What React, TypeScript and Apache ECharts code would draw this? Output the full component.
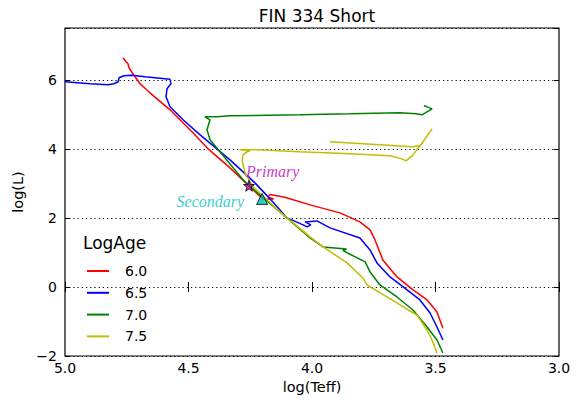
import React, { useEffect, useRef } from "react";
import * as echarts from "echarts";

// Isochrones: [log(Teff), log(L)] pairs, in the order the track runs
const AGE_LABELS = ["6.0", "6.5", "7.0", "7.5"];
const AGE_COLORS = ["#ff0000", "#0000ff", "#008000", "#bfbf00"];

const ISO_6_0: [number, number][] = [
  [3.47, -1.19], [3.494, -0.725], [3.534, -0.377], [3.591, -0.087], [3.656, 0.29],
  [3.713, 0.783], [3.745, 1.362], [3.765, 1.652], [3.806, 1.884], [3.887, 2.145],
  [4.008, 2.377], [4.11, 2.6], [4.17, 2.68], [4.178, 2.6], [4.155, 2.55],
  [4.198, 2.54], [4.255, 2.928], [4.332, 3.449], [4.425, 4.029], [4.482, 4.464],
  [4.575, 5.13], [4.656, 5.623], [4.696, 5.884], [4.725, 6.174], [4.741, 6.348],
  [4.745, 6.464], [4.753, 6.522], [4.765, 6.638],
];

const ISO_6_5: [number, number][] = [
  [3.47, -1.536], [3.494, -1.159], [3.522, -0.754], [3.563, -0.377], [3.615, -0.087],
  [3.684, 0.29], [3.737, 0.696], [3.765, 1.072], [3.806, 1.42], [3.927, 1.71],
  [3.98, 1.913], [4.028, 1.884], [4.005, 1.8], [4.02, 1.74], [4.036, 1.797],
  [4.101, 2.0], [4.17, 2.551], [4.231, 3.014], [4.332, 3.681], [4.453, 4.406],
  [4.522, 4.841], [4.575, 5.217], [4.591, 5.507], [4.587, 5.739], [4.571, 5.884],
  [4.575, 6.014], [4.676, 6.087], [4.729, 6.13], [4.761, 6.116], [4.781, 6.058],
  [4.785, 5.942], [4.802, 5.884], [4.826, 5.855], [4.899, 5.884], [5.0, 5.942],
];

const ISO_7_0: [number, number][] = [
  [3.47, -1.913], [3.494, -1.536], [3.534, -1.159], [3.591, -0.667], [3.656, -0.29],
  [3.725, 0.058], [3.765, 0.435], [3.785, 0.725], [3.858, 0.99], [3.875, 1.06],
  [3.86, 1.1], [3.955, 1.159], [4.008, 1.42], [4.13, 2.174], [4.211, 2.667],
  [4.275, 3.072], [4.356, 3.768], [4.413, 4.261], [4.425, 4.551], [4.413, 4.841],
  [4.433, 4.928], [4.385, 4.928], [4.332, 4.957], [4.049, 4.986], [3.846, 5.014],
  [3.644, 5.043], [3.579, 5.014], [3.555, 4.986], [3.514, 5.159], [3.534, 5.217],
  [3.547, 5.246],
];

const ISO_7_5: [number, number][] = [
  [3.494, -1.913], [3.514, -1.536], [3.534, -1.246], [3.575, -0.812], [3.611, -0.667],
  [3.656, -0.464], [3.765, 0.0], [3.777, 0.058], [3.794, 0.261], [3.858, 0.696],
  [3.955, 1.159], [4.008, 1.449], [4.13, 2.174], [4.182, 2.522], [4.239, 2.899],
  [4.271, 3.304], [4.283, 3.681], [4.279, 3.826], [4.263, 3.913], [4.251, 3.942],
  [4.291, 3.971], [4.223, 3.971], [4.049, 3.913], [3.846, 3.855], [3.684, 3.797],
  [3.636, 3.71], [3.619, 3.652], [3.595, 3.797], [3.559, 4.116], [3.514, 4.58],
  [3.563, 4.087], [3.595, 4.058], [3.725, 4.116], [3.927, 4.203],
];

const PRIMARY: [number, number] = [4.255, 2.93];
const SECONDARY: [number, number] = [4.202, 2.55];

const X_TICK_STEP = 0.5;
const Y_TICKS = [-2, 0, 2, 4, 6];

const SANS = "DejaVu Sans";
const SERIF = "Liberation Serif";
const STAR =
  "path://M50,0 L61,35 L98,35 L68,57 L79,91 L50,70 L21,91 L32,57 L2,35 L39,35 Z";

export default function App() {
  const ref = useRef<HTMLDivElement>(null);

  useEffect(() => {
    if (!ref.current) return;
    const chart = echarts.init(ref.current, undefined, { renderer: "svg" });

    const isochrones = [ISO_6_0, ISO_6_5, ISO_7_0, ISO_7_5];

    const xBase = {
      type: "value" as const,
      min: 3,
      max: 5,
      inverse: true,
      interval: X_TICK_STEP,
      axisLine: { show: false },
      splitLine: { show: false },
      axisTick: { inside: true, length: 5, lineStyle: { color: "#000", width: 1 } },
    };
    const yBase = {
      type: "value" as const,
      min: -2,
      max: 7.5,
      interval: 2,
      axisLine: { show: false },
      axisTick: { inside: true, length: 5, lineStyle: { color: "#000", width: 1 } },
    };

    chart.setOption({
      animation: false,
      backgroundColor: "#fff",
      title: {
        text: "FIN 334 Short",
        left: 312,
        top: 2,
        textAlign: "center",
        textStyle: { fontFamily: SANS, fontSize: 17, fontWeight: "normal", color: "#000" },
      },
      grid: {
        left: 65,
        right: 23,
        top: 28,
        bottom: 47,
        show: true,
        borderColor: "#000",
        borderWidth: 1.2,
        backgroundColor: "transparent",
        containLabel: false,
        outerBoundsMode: "none",
      },
      xAxis: [
        {
          ...xBase,
          position: "bottom",
          axisLabel: {
            color: "#000",
            fontSize: 14,
            fontFamily: SANS,
            margin: 5,
            formatter: (v: number) => v.toFixed(1),
          },
          name: "log(Teff)",
          nameLocation: "middle",
          nameGap: 21,
          nameTextStyle: { color: "#000", fontSize: 14.5, fontFamily: SANS },
        },
        { ...xBase, position: "top", axisLabel: { show: false } },
      ],
      yAxis: [
        {
          ...yBase,
          position: "left",
          axisLabel: {
            color: "#000",
            fontSize: 14,
            fontFamily: SANS,
            margin: 8,
            formatter: (v: number) =>
              Y_TICKS.includes(v) ? String(v).replace("-", "\u2212") : "",
          },
          splitLine: {
            show: true,
            lineStyle: { color: "#000", width: 1, type: [1.2, 3] },
          },
          name: "log(L)",
          nameLocation: "middle",
          nameGap: 37,
          nameTextStyle: { color: "#000", fontSize: 14.5, fontFamily: SANS },
        },
        { ...yBase, position: "right", axisLabel: { show: false }, splitLine: { show: false } },
      ],
      legend: {
        data: AGE_LABELS,
        orient: "vertical",
        left: 82,
        top: 259,
        itemWidth: 22,
        itemHeight: 2,
        itemGap: 7.8,
        icon: "rect",
        selectedMode: false,
        textStyle: {
          color: "#000",
          fontSize: 14,
          fontFamily: SANS,
          padding: [0, 0, 0, 11],
        },
      },
      graphic: [
        {
          type: "text",
          left: 83,
          top: 234,
          style: { text: "LogAge", fontSize: 17, fontFamily: SANS, fill: "#000" },
        },
      ],
      series: [
        ...isochrones.map((d, i) => ({
          type: "line",
          name: AGE_LABELS[i],
          data: d,
          showSymbol: false,
          symbol: "none",
          lineStyle: { color: AGE_COLORS[i], width: 1.5 },
          itemStyle: { color: AGE_COLORS[i] },
          z: 2 + i,
        })),
        {
          type: "scatter",
          name: "Primary",
          data: [PRIMARY],
          symbol: STAR,
          symbolSize: 11,
          itemStyle: { color: "#bf00bf", borderColor: "#000", borderWidth: 1 },
          label: {
            show: true,
            formatter: "Primary",
            position: "top",
            align: "left",
            distance: 0,
            offset: [-3, 0],
            color: "#bf00bf",
            fontFamily: SERIF,
            fontStyle: "italic",
            fontSize: 16,
          },
          z: 10,
        },
        {
          type: "scatter",
          name: "Secondary",
          data: [SECONDARY],
          symbol: "triangle",
          symbolSize: 11,
          itemStyle: { color: "#00bfbf", borderColor: "#000", borderWidth: 1 },
          label: {
            show: true,
            formatter: "Secondary",
            position: "left",
            distance: 12,
            offset: [0, 3],
            color: "#00bfbf",
            fontFamily: SERIF,
            fontStyle: "italic",
            fontSize: 16,
          },
          z: 10,
        },
      ],
    });

    return () => chart.dispose();
  }, []);

  return (
    <div
      ref={ref}
      style={{ position: "fixed", left: 0, top: 0, width: 582, height: 403, background: "#fff" }}
    />
  );
}
